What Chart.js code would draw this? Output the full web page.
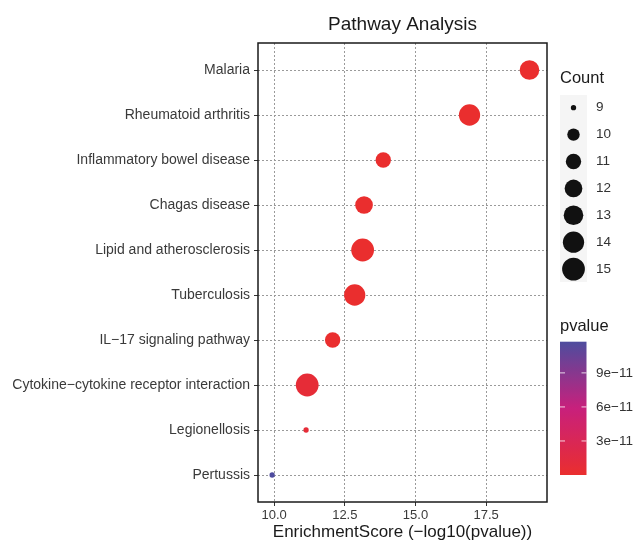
<!DOCTYPE html>
<html>
<head>
<meta charset="utf-8">
<script src="https://cdn.jsdelivr.net/npm/chart.js@4.4.1/dist/chart.umd.min.js"></script>
<style>
  html, body { margin: 0; padding: 0; background: #fff; }
  #wrap { width: 636px; height: 542px; }
</style>
</head>
<body>
<div id="wrap"><canvas id="chart"></canvas></div>
<script>
// pathways, top to bottom
const pathways = ['Malaria', 'Rheumatoid arthritis', 'Inflammatory bowel disease', 'Chagas disease',
  'Lipid and atherosclerosis', 'Tuberculosis', 'IL\u221217 signaling pathway',
  'Cytokine\u2212cytokine receptor interaction', 'Legionellosis', 'Pertussis'];
// EnrichmentScore = -log10(pvalue)
const scores = [19.03, 16.91, 13.86, 13.18, 13.13, 12.85, 12.07, 11.17, 11.13, 9.93];
const counts = [13, 14, 11, 12, 15, 14, 11, 15, 9, 9];
const xTicks = [10, 12.5, 15, 17.5];
const countBreaks = [9, 10, 11, 12, 13, 14, 15];
const pBreaks = [3e-11, 6e-11, 9e-11];
const pBreakLabels = ['3e\u221211', '6e\u221211', '9e\u221211'];

const pvalues = scores.map(s => Math.pow(10, -s));
const pMax = Math.max(...pvalues);
const cMin = Math.min(...counts), cMax = Math.max(...counts);

function radiusFor(c) {
  const t = (c - cMin) / (cMax - cMin);
  return 0.9 + (1 + 5 * Math.sqrt(t)) * 1.75;
}

const stops = [[0, [234, 46, 46]], [0.5, [200, 32, 124]], [1, [78, 76, 158]]];
function colorFor(p) {
  const t = Math.min(1, Math.max(0, p / pMax));
  for (let i = 1; i < stops.length; i++) {
    if (t <= stops[i][0]) {
      const a = stops[i - 1], b = stops[i];
      const f = (t - a[0]) / (b[0] - a[0]);
      const rgb = a[1].map((v, k) => Math.round(v + (b[1][k] - v) * f));
      return 'rgb(' + rgb.join(',') + ')';
    }
  }
  return 'rgb(' + stops[stops.length - 1][1].join(',') + ')';
}

const FONT = 'Liberation Sans, Arial, sans-serif';

const extras = {
  id: 'extras',
  afterDraw(chart) {
    const ctx = chart.ctx;
    const a = chart.chartArea;
    ctx.save();
    // panel border
    ctx.strokeStyle = '#1a1a1a';
    ctx.lineWidth = 1.5;
    ctx.strokeRect(a.left, a.top, a.right - a.left, a.bottom - a.top);

    // title
    ctx.fillStyle = '#1a1a1a';
    ctx.font = '19px ' + FONT;
    ctx.textAlign = 'center';
    ctx.textBaseline = 'middle';
    ctx.fillText('Pathway Analysis', (a.left + a.right) / 2, 25);

    // Count legend
    ctx.textAlign = 'left';
    ctx.font = '16.5px ' + FONT;
    ctx.fillText('Count', 560, 78);
    ctx.fillStyle = '#f5f5f5';
    ctx.fillRect(560, 95, 27, 187);
    countBreaks.forEach((c, i) => {
      const cy = 107.7 + i * 26.9;
      ctx.fillStyle = '#111';
      ctx.beginPath();
      ctx.arc(573.5, cy, radiusFor(c), 0, Math.PI * 2);
      ctx.fill();
      ctx.fillStyle = '#333';
      ctx.font = '13.5px ' + FONT;
      ctx.fillText(String(c), 596, cy);
    });

    // pvalue colorbar
    ctx.fillStyle = '#1a1a1a';
    ctx.font = '16.5px ' + FONT;
    ctx.fillText('pvalue', 560, 326);
    const top = 341.7, bottom = 475, x0 = 560, x1 = 586.5;
    const grad = ctx.createLinearGradient(0, bottom, 0, top);
    for (let i = 0; i <= 20; i++) grad.addColorStop(i / 20, colorFor(pMax * i / 20));
    ctx.fillStyle = grad;
    ctx.fillRect(x0, top, x1 - x0, bottom - top);
    pBreaks.forEach((p, i) => {
      const y = bottom - (bottom - top) * p / pMax;
      ctx.strokeStyle = 'rgba(255,255,255,0.8)';
      ctx.lineWidth = 1;
      ctx.beginPath();
      ctx.moveTo(x0, y); ctx.lineTo(x0 + 5, y);
      ctx.moveTo(x1 - 5, y); ctx.lineTo(x1, y);
      ctx.stroke();
      ctx.fillStyle = '#333';
      ctx.font = '13.5px ' + FONT;
      ctx.fillText(pBreakLabels[i], 596, y);
    });
    ctx.restore();
  }
};

new Chart(document.getElementById('chart'), {
  type: 'scatter',
  data: {
    datasets: [{
      data: scores.map((s, i) => ({ x: s, y: i })),
      pointRadius: c => radiusFor(counts[c.dataIndex]),
      pointHoverRadius: c => radiusFor(counts[c.dataIndex]),
      backgroundColor: c => colorFor(pvalues[c.dataIndex]),
      borderWidth: 0
    }]
  },
  options: {
    responsive: true,
    maintainAspectRatio: false,
    animation: false,
    layout: { padding: { top: 43, right: 89, left: 0, bottom: 0 } },
    plugins: { legend: { display: false }, tooltip: { enabled: false } },
    scales: {
      x: {
        type: 'linear',
        min: 9.43,
        max: 19.65,
        afterBuildTicks: s => { s.ticks = xTicks.map(v => ({ value: v })); },
        afterFit: s => { s.height = 40; },
        ticks: {
          color: '#3a3a3a',
          font: { family: FONT, size: 13 },
          padding: 2,
          maxRotation: 0,
          callback: v => v.toFixed(1)
        },
        grid: { color: '#9a9a9a', lineWidth: 1, tickLength: 4, tickColor: '#333' },
        border: { display: false, dash: [2, 2] },
        title: {
          display: true,
          text: 'EnrichmentScore (\u2212log10(pvalue))',
          color: '#1a1a1a',
          font: { family: FONT, size: 17, lineHeight: 1.0 },
          padding: { top: 0, bottom: 1 }
        }
      },
      y: {
        type: 'linear',
        reverse: true,
        min: -0.6,
        max: 9.6,
        afterBuildTicks: s => { s.ticks = pathways.map((_, i) => ({ value: i })); },
        afterFit: s => { s.width = 258; },
        ticks: {
          color: '#3a3a3a',
          font: { family: FONT, size: 14 },
          padding: 4,
          autoSkip: false,
          callback: v => pathways[v]
        },
        grid: { color: '#9a9a9a', lineWidth: 1, tickLength: 4, tickColor: '#333' },
        border: { display: false, dash: [2, 2] }
      }
    }
  },
  plugins: [extras]
});
</script>
</body>
</html>
